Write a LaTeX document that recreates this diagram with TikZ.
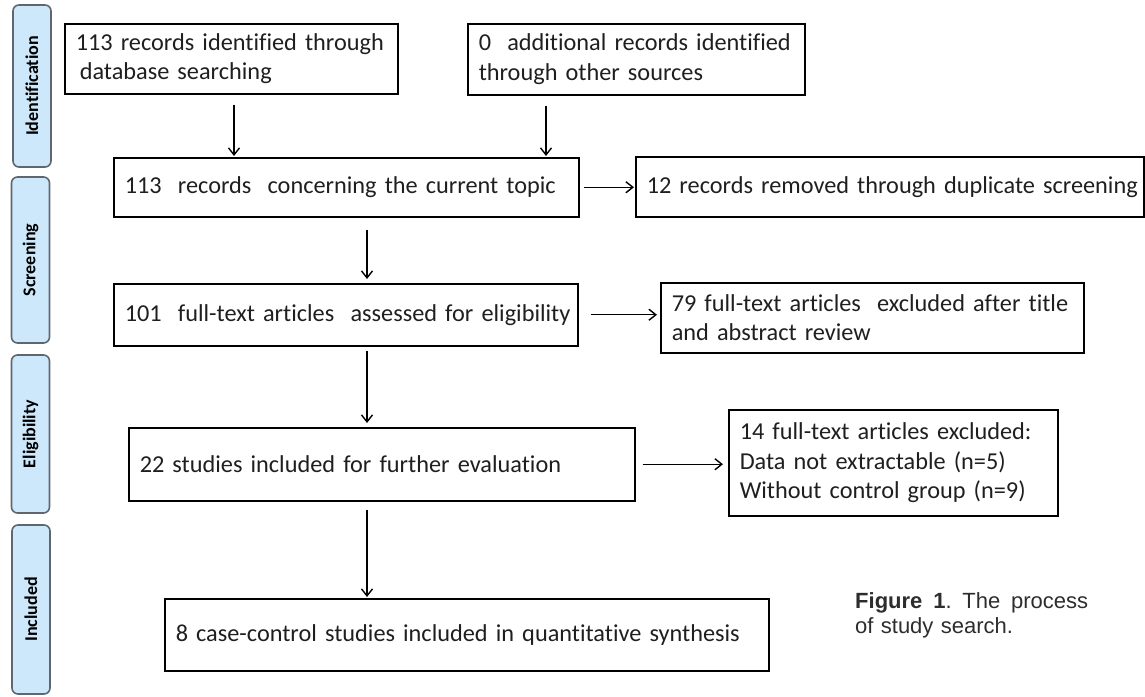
\documentclass[tikz,border=0pt]{standalone}
\usepackage{fontspec}
\setmainfont{Carlito}[Ligatures=NoCommon]
\newfontfamily\capfont{Liberation Sans}
\usetikzlibrary{arrows.meta}
\definecolor{tabblue}{RGB}{206,232,251}
\definecolor{tabedge}{RGB}{95,103,110}
\definecolor{captext}{RGB}{45,45,45}
\begin{document}
\begin{tikzpicture}[x=1pt,y=-1pt] % the study selection flow chart
    \tikzstyle{every node}+=[inner sep=0pt]
    \tikzstyle{stage}=[draw=black, line width=1.5pt, anchor=north west, inner xsep=11pt, align=left, text=black!88, font=\fontsize{24.3}{29.5}\selectfont]
    \tikzstyle{phase}=[draw=tabedge, fill=tabblue, line width=1.6pt, rounded corners=6pt, rotate=90, minimum height=38, font=\bfseries\fontsize{18}{20}\selectfont]
    \tikzstyle{flow}=[-{Straight Barb[length=7pt,width=11pt]}, line width=1.4pt, shorten <=8pt, shorten >=1pt]
    \useasboundingbox (0,0) rectangle (1145,696);
    \node[phase, minimum width=162] (ident) at (32,86) {Identification};
    \node[phase, minimum width=166] (screen) at (30.5,260) {Screening};
    \node[phase, minimum width=158] (elig) at (30.5,434) {Eligibility};
    \node[phase, minimum width=169] (incl) at (31,609.5) {Included};
    \node[stage, text width=311pt, minimum height=70] (found) at (64,23) {113 records identified through\\\hspace{4pt}database searching};
    \node[stage, text width=315pt, minimum height=71] (other) at (467,23) {0\ \ additional records identified\\through other sources};
    \node[stage, text width=443pt, minimum height=59] (topic) at (113,157) {\mbox{113\ \ records\ \ concerning the current topic}};
    \node[stage, text width=486pt, minimum height=60] (dupes) at (635,156) {\mbox{12 records removed through duplicate screening}};
    \node[stage, text width=442pt, minimum height=62] (fulltext) at (113,283) {\mbox{101\ \ full-text articles\ \ assessed for eligibility}};
    \node[stage, text width=401pt, minimum height=70] (titleabs) at (660,282) {79 full-text articles\ \ excluded after title\\and abstract review};
    \node[stage, text width=484pt, minimum height=73] (further) at (128,427) {\mbox{22 studies included for further evaluation}};
    \node[stage, text width=307pt, minimum height=106] (notused) at (728,409) {14 full-text articles excluded:\\Data not extractable (n=5)\\Without control group (n=9)};
    \node[stage, text width=582pt, minimum height=72] (synth) at (164,598) {\mbox{8 case-control studies included in quantitative synthesis}};
    \node[anchor=north west, text width=233pt, align=left, text=captext, font=\capfont\fontsize{22}{25}\selectfont] (caption) at (855,592) {\textbf{Figure}\hfill\textbf{1}.\hfill The\hfill process\\of study search.};
    \coordinate (colA) at (234,0);
    \coordinate (colB) at (546,0);
    \coordinate (spine) at (367,0);
    \draw[flow, shorten <=10pt] (found.south -| colA) -- (topic.north -| colA);
    \draw[flow, shorten <=10pt] (other.south -| colB) -- (topic.north -| colB);
    \draw[flow, shorten <=12pt, shorten >=4pt] (topic.south -| spine) -- (fulltext.north -| spine);
    \draw[flow, shorten <=4pt, shorten >=4pt] (fulltext.south -| spine) -- (further.north -| spine);
    \draw[flow] (further.south -| spine) -- (synth.north -| spine);
    \draw[flow, shorten <=4pt] (topic.east) -- (dupes.west |- topic.east);
    \draw[flow, shorten <=12pt, shorten >=3pt] (fulltext.east) -- (titleabs.west |- fulltext.east);
    \draw[flow, shorten <=7pt, shorten >=5pt] (further.east) -- (notused.west |- further.east);
\end{tikzpicture}
\end{document}
